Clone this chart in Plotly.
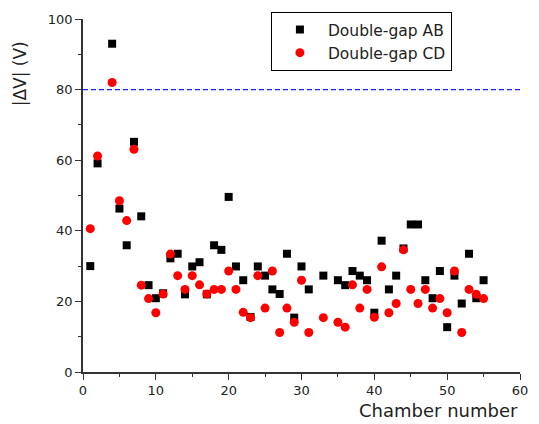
import plotly.graph_objects as go

# Chamber numbers with measurements (no data for 3, 32, 34)
chambers = [1, 2, 4, 5, 6, 7, 8, 9, 10, 11, 12, 13, 14, 15, 16, 17, 18, 19, 20,
            21, 22, 23, 24, 25, 26, 27, 28, 29, 30, 31, 33, 35, 36, 37, 38, 39,
            40, 41, 42, 43, 44, 45, 46, 47, 48, 49, 50, 51, 52, 53, 54, 55]

# |dV| in volts for each double-gap pair
dv_ab = [30.0, 59.1, 93.0, 46.3, 35.9, 65.2, 44.1, 24.6, 20.9, 22.3, 32.2, 33.5,
         22.0, 29.9, 31.1, 22.0, 35.9, 34.6, 49.6,
         29.9, 26.0, 15.6, 29.9, 27.3, 23.4, 22.1, 33.5, 15.4, 29.9, 23.4, 27.3,
         26.0, 24.6, 28.6, 27.3, 26.0,
         16.8, 37.2, 23.4, 27.3, 35.0, 41.8, 41.8, 26.0, 20.9, 28.6, 12.7, 27.3,
         19.4, 33.5, 20.9, 26.0]
dv_cd = [40.6, 61.2, 82.0, 48.5, 42.9, 63.1, 24.6, 20.8, 16.8, 22.1, 33.4, 27.3,
         23.4, 27.3, 24.7, 22.1, 23.4, 23.4, 28.6,
         23.4, 16.9, 15.4, 27.3, 18.1, 28.6, 11.2, 18.1, 14.1, 26.0, 11.2, 15.4,
         14.1, 12.7, 24.7, 18.1, 23.4,
         15.5, 29.8, 16.8, 19.4, 34.6, 23.4, 19.4, 23.4, 18.1, 20.8, 16.8, 28.6,
         11.2, 23.4, 22.0, 20.8]

threshold = 80
x_ticks = [0, 10, 20, 30, 40, 50, 60]
y_ticks = [0, 20, 40, 60, 80, 100]

font_family = "DejaVu Sans"

fig = go.Figure()
fig.add_trace(go.Scatter(
    x=chambers, y=dv_ab, mode="markers", name="Double-gap AB",
    marker=dict(symbol="square", size=8, color="black", line=dict(width=0)),
))
fig.add_trace(go.Scatter(
    x=chambers, y=dv_cd, mode="markers", name="Double-gap CD",
    marker=dict(symbol="circle", size=9, color="#ff0000", line=dict(width=0)),
))

# Dashed reference level
fig.add_shape(type="line", xref="x", yref="y", x0=0, x1=60, y0=threshold, y1=threshold,
              line=dict(color="#1f1fff", width=1.4, dash="5px,3px"), layer="above")

axis_common = dict(
    showline=True, linecolor="#333333", linewidth=1.5, mirror=False,
    ticks="outside", ticklen=6, tickwidth=1.2, tickcolor="#333333",
    showgrid=False, zeroline=False,
    tickfont=dict(family=font_family, size=13, color="#222222"),
)

fig.update_xaxes(range=[0, 60], tickvals=x_ticks,
                 minor=dict(dtick=5, ticks="outside", ticklen=3, tickcolor="#333333"),
                 **axis_common)
fig.update_yaxes(range=[0, 100], tickvals=y_ticks,
                 minor=dict(dtick=10, ticks="outside", ticklen=3, tickcolor="#333333"),
                 **axis_common)

fig.add_annotation(text="Chamber number", xref="paper", yref="paper",
                   x=1.0, y=-0.108, xanchor="right", yanchor="middle", showarrow=False,
                   font=dict(family=font_family, size=18, color="#222222"))
fig.add_annotation(text="|ΔV| (V)", xref="paper", yref="paper",
                   x=-0.145, y=0.845, xanchor="center", yanchor="middle", textangle=-90,
                   showarrow=False,
                   font=dict(family=font_family, size=17, color="#222222"))

fig.update_layout(
    width=539, height=424,
    margin=dict(l=83, r=19, t=15, b=52),
    plot_bgcolor="white", paper_bgcolor="white",
    showlegend=True,
    legend=dict(x=0.43, y=1.02, xanchor="left", yanchor="top",
                bgcolor="white", bordercolor="black", borderwidth=1,
                font=dict(family=font_family, size=15.5, color="#222222"),
                itemsizing="trace", itemwidth=46, tracegroupgap=0,
                entrywidth=168),
)

fig.write_html("out.html")
